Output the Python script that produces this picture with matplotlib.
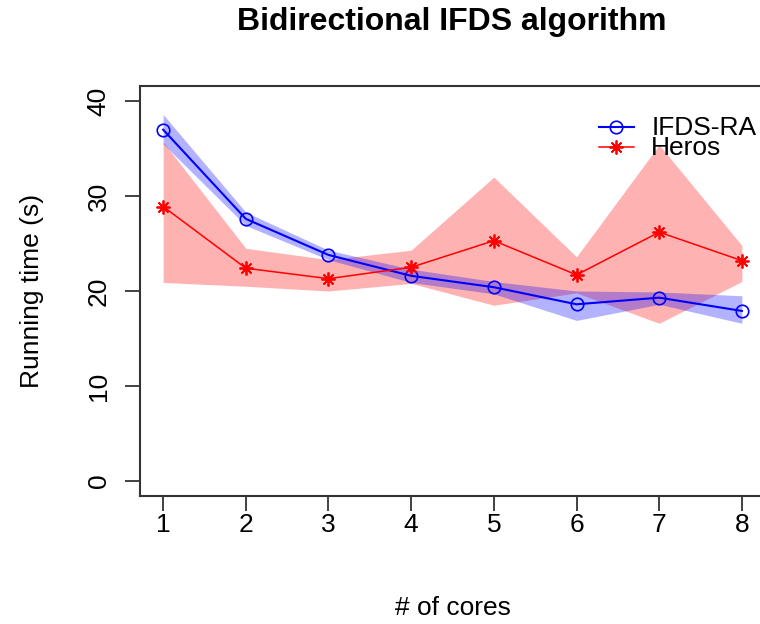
import numpy as np
import matplotlib
matplotlib.use("Agg")
import matplotlib.pyplot as plt

# --- DATEN ---
cores = [1, 2, 3, 4, 5, 6, 7, 8]

ifds_mean = [37.0, 27.6, 23.8, 21.6, 20.4, 18.6, 19.3, 17.9]
ifds_low = [35.5, 26.9, 23.3, 20.9, 19.7, 16.9, 18.6, 16.6]
ifds_high = [38.6, 28.3, 24.3, 22.3, 21.0, 20.0, 19.9, 19.5]

heros_mean = [28.9, 22.4, 21.3, 22.5, 25.3, 21.7, 26.2, 23.2]
heros_low = [20.9, 20.5, 20.0, 20.8, 18.5, 19.8, 16.6, 21.0]
heros_high = [35.7, 24.5, 23.3, 24.3, 32.0, 23.6, 35.4, 24.8]

y_ticks = [0, 10, 20, 30, 40]

# --- STYLE ---
plt.rcParams["font.family"] = ["Liberation Sans", "DejaVu Sans"]
FONT_TITLE = 23
FONT_LABEL = 19
BLUE = "#0000ff"
RED = "#ff0000"
AXIS_COL = "#333333"

fig = plt.figure(figsize=(7.6, 6.24), dpi=100)
# rechter Rand liegt knapp ausserhalb des Bildes (wie im Original)
ax = fig.add_axes([0.1842, 0.2051, 0.8224, 0.6571])

# Baender
ax.fill_between(cores, heros_low, heros_high, color=RED, alpha=0.3, linewidth=0)
ax.fill_between(cores, ifds_low, ifds_high, color=BLUE, alpha=0.3, linewidth=0)

# Linien
ax.plot(cores, ifds_mean, color=BLUE, linewidth=1.5, marker="o", markersize=9,
        markerfacecolor="none", markeredgecolor=BLUE, markeredgewidth=1.2)
ax.plot(cores, heros_mean, color=RED, linewidth=1.1, marker=(8, 2, 0), markersize=10,
        markeredgecolor=RED, markeredgewidth=1.3)

# R-artige Achsen (4% Erweiterung)
ax.set_xlim(1 - 0.04 * 7, 8 + 0.04 * 7)
ax.set_ylim(-0.04 * 40, 40 + 0.04 * 40)

ax.set_xticks(cores)
ax.set_xticklabels([str(c) for c in cores], fontsize=FONT_LABEL)
ax.set_yticks(y_ticks)
ax.set_yticklabels([str(v) for v in y_ticks], fontsize=FONT_LABEL, rotation=90, va="center")
ax.tick_params(axis="both", direction="out", length=11, width=1.3, color=AXIS_COL)
ax.tick_params(axis="x", pad=1)
ax.tick_params(axis="y", pad=10)

for side in ["left", "top", "bottom", "right"]:
    ax.spines[side].set_color(AXIS_COL)
    ax.spines[side].set_linewidth(1.5)

ax.set_xlabel("# of cores", fontsize=FONT_LABEL)
ax.xaxis.set_label_coords(0.5, -0.245)
ax.set_ylabel("Running time (s)", fontsize=FONT_LABEL)
ax.yaxis.set_label_coords(-0.154, 0.5)

fig.text(452 / 760, 1 - 22 / 624, "Bidirectional IFDS algorithm", fontsize=FONT_TITLE,
         fontweight="bold", ha="center", va="center")

# Legende (ohne Rahmen, eng gesetzt wie in R)
leg_x0, leg_x1, leg_xm = 0.734, 0.790, 0.762
ax.plot([leg_x0, leg_x1], [0.900, 0.900], transform=ax.transAxes, color=BLUE, linewidth=1.5)
ax.plot([leg_xm], [0.900], transform=ax.transAxes, marker="o", markersize=9,
        markerfacecolor="none", markeredgecolor=BLUE, markeredgewidth=1.2)
ax.plot([leg_x0, leg_x1], [0.851, 0.851], transform=ax.transAxes, color=RED, linewidth=1.1)
ax.plot([leg_xm], [0.851], transform=ax.transAxes, marker=(8, 2, 0), markersize=10,
        markeredgecolor=RED, markeredgewidth=1.3)
ax.text(0.818, 0.880, "IFDS-RA", transform=ax.transAxes, fontsize=FONT_LABEL, va="baseline")
ax.text(0.818, 0.832, "Heros", transform=ax.transAxes, fontsize=FONT_LABEL, va="baseline")

fig.savefig("out.png", dpi=100)
